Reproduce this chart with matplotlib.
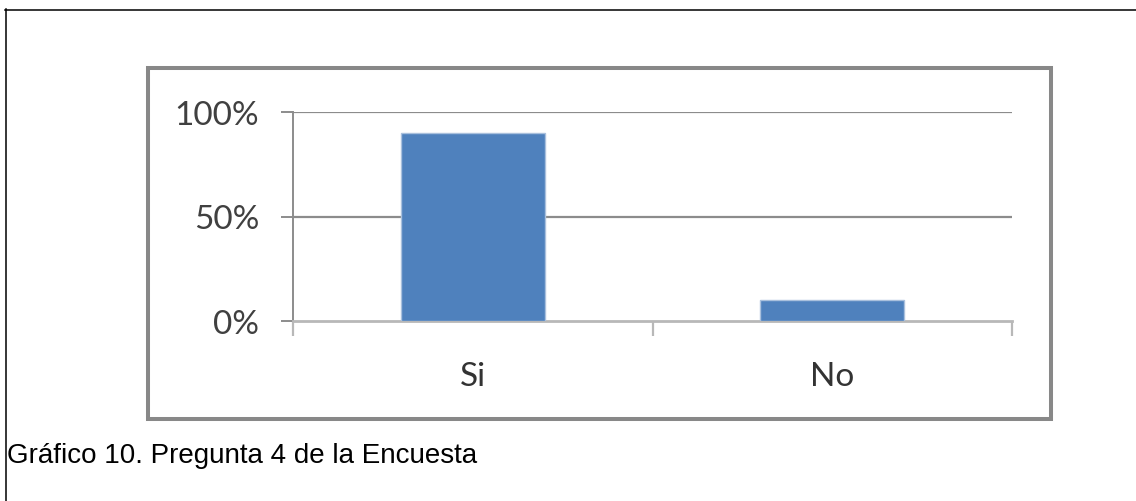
import matplotlib
matplotlib.use("Agg")
import matplotlib.pyplot as plt
from matplotlib.patches import Rectangle
from matplotlib.lines import Line2D

# Survey answers (share of respondents)
categories = ["Si", "No"]
shares = [0.90, 0.10]
y_ticks = [0.0, 0.5, 1.0]
y_tick_labels = ["0%", "50%", "100%"]
caption = "Gráfico 10. Pregunta 4 de la Encuesta"

W, H = 1136, 502
fig = plt.figure(figsize=(W / 100, H / 100), dpi=100)
fig.patch.set_facecolor("white")


def fx(px):
    return px / W


def fy(py):
    return 1 - py / H


# Page frame: top and left rules
fig.add_artist(Line2D([fx(5), 1.0], [fy(10.5), fy(10.5)], color="black", lw=1.1))
fig.add_artist(Line2D([fx(5.5), fx(5.5)], [fy(10), 0.0], color="black", lw=1.1))

# Chart frame
fig.add_artist(Rectangle((fx(148), fy(420)), fx(1051) - fx(148), fy(69) - fy(420),
                         fill=False, edgecolor="#888888", lw=2.9))

ax = fig.add_axes([fx(293.3), fy(321.7), fx(1011.7) - fx(293.3), fy(113.3) - fy(321.7)])
x = list(range(len(categories)))
ax.bar(x, shares, width=0.4, color="#4F81BD", edgecolor="#a9c0dd", linewidth=1.0, zorder=3)

ax.set_xlim(-0.5, len(categories) - 0.5)
ax.set_ylim(0, 1.0)

ax.set_yticks(y_ticks)
ax.set_yticklabels(y_tick_labels, fontfamily="Lato", fontsize=24, color="#404040")
ax.tick_params(axis="y", length=8.6, width=1.4, color="#8c8c8c", pad=16)
for lbl in ax.get_yticklabels():
    lbl.set_va("center_baseline")
for yv in y_ticks[1:]:
    ax.axhline(yv, color="#8c8c8c", lw=1.6, zorder=1)

# Category boundaries as major ticks, labels on minor ticks
ax.set_xticks([i - 0.5 for i in range(len(categories) + 1)])
ax.set_xticklabels([])
ax.tick_params(axis="x", which="major", length=11, width=1.6, color="#b8b8b8")
ax.set_xticks(x, minor=True)
ax.set_xticklabels(categories, minor=True, fontfamily="Lato", fontsize=24, color="#333333")
ax.tick_params(axis="x", which="minor", length=0, pad=29)

for side in ("top", "right"):
    ax.spines[side].set_visible(False)
ax.spines["left"].set_color("#8c8c8c")
ax.spines["left"].set_linewidth(1.4)
ax.spines["bottom"].set_color("#b8b8b8")
ax.spines["bottom"].set_linewidth(2.0)
ax.set_facecolor("white")

fig.text(fx(7), fy(463), caption, fontfamily="Liberation Sans", fontsize=20,
         color="black", ha="left", va="baseline")

fig.savefig("out.png", dpi=100, facecolor="white")
